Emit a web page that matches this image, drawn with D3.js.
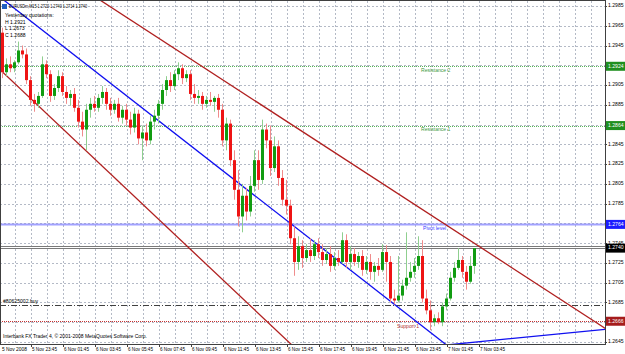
<!DOCTYPE html>
<html><head><meta charset="utf-8">
<script src="https://cdn.jsdelivr.net/npm/d3@7"></script>
<style>body{margin:0;background:#fff}svg{display:block}text{font-family:"Liberation Sans",Arial,sans-serif}</style>
</head><body><svg id="c" width="625" height="354"></svg>
<script>
// ---------- DATA ----------
const symbolHeader = "EURUSDm,M15  1.2722 1.2740 1.2714 1.2740";
const yesterdayText = ["Yesterday quotations:", "H 1.2921", "L 1.2673", "C 1.2688"];
const footerText = "Interbank FX Trader 4, \u00a9 2001-2008 MetaQuotes Software Corp.";

const open = [
1.2958,1.2918,1.2926,1.2922,1.2928,1.2940,1.2936,1.2910,1.2890,1.2886,
1.2894,1.2926,1.2916,1.2894,1.2902,1.2914,1.2898,1.2892,1.2896,1.2882,
1.2868,1.2860,1.2880,1.2886,1.2882,1.2892,1.2898,1.2886,1.2880,1.2886,
1.2872,1.2880,1.2870,1.2862,1.2876,1.2851,1.2857,1.2849,1.2868,1.2874,
1.2886,1.2900,1.2910,1.2904,1.2916,1.2922,1.2912,1.2916,1.2896,1.2892,
1.2894,1.2886,1.2890,1.2888,1.2892,1.2880,1.2849,1.2866,1.2829,1.2799,
1.2772,1.2793,1.2777,1.2803,1.2829,1.2809,1.2860,1.2849,1.2821,1.2843,
1.2811,1.2789,1.2783,1.2750,1.2726,1.2742,1.2730,1.2738,1.2732,1.2744,
1.2736,1.2728,1.2734,1.2722,1.2730,1.2726,1.2748,1.2726,1.2734,1.2726,
1.2732,1.2718,1.2726,1.2716,1.2722,1.2718,1.2736,1.2726,1.2689,1.2687,
1.2692,1.2702,1.2710,1.2716,1.2722,1.2732,1.2689,1.2677,1.2665,1.2669,
1.2665,1.2681,1.2689,1.2710,1.2720,1.2728,1.2716,1.2706,1.2722];
const high = [
1.2963,1.2932,1.2934,1.2930,1.2949,1.2945,1.2942,1.2914,1.2896,1.2898,
1.2934,1.2930,1.2920,1.2906,1.2920,1.2918,1.2904,1.2900,1.2902,1.2890,
1.2878,1.2886,1.2892,1.2894,1.2896,1.2904,1.2902,1.2892,1.2890,1.2892,
1.2884,1.2886,1.2878,1.2882,1.2880,1.2864,1.2866,1.2874,1.2880,1.2890,
1.2906,1.2914,1.2918,1.2920,1.2928,1.2926,1.2920,1.2920,1.2906,1.2900,
1.2898,1.2894,1.2898,1.2894,1.2896,1.2886,1.2872,1.2870,1.2839,1.2819,
1.2805,1.2801,1.2813,1.2839,1.2839,1.2870,1.2866,1.2864,1.2853,1.2849,
1.2819,1.2809,1.2789,1.2762,1.2752,1.2748,1.2744,1.2750,1.2748,1.2750,
1.2744,1.2740,1.2742,1.2736,1.2738,1.2756,1.2754,1.2742,1.2740,1.2736,
1.2738,1.2732,1.2734,1.2726,1.2730,1.2744,1.2743,1.2732,1.2698,1.2732,
1.2708,1.2756,1.2726,1.2730,1.2752,1.2748,1.2698,1.2687,1.2673,1.2675,
1.2685,1.2694,1.2716,1.2726,1.2740,1.2732,1.2722,1.2732,1.2740];
const low = [
1.2912,1.2914,1.2918,1.2918,1.2926,1.2932,1.2906,1.2884,1.2878,1.2882,
1.2892,1.2912,1.2888,1.2890,1.2898,1.2894,1.2886,1.2884,1.2878,1.2862,
1.2853,1.2839,1.2872,1.2878,1.2878,1.2886,1.2880,1.2874,1.2876,1.2868,
1.2866,1.2864,1.2855,1.2857,1.2845,1.2829,1.2843,1.2845,1.2860,1.2866,
1.2880,1.2894,1.2898,1.2900,1.2910,1.2906,1.2908,1.2890,1.2886,1.2886,
1.2880,1.2882,1.2884,1.2878,1.2872,1.2843,1.2839,1.2823,1.2789,1.2762,
1.2756,1.2768,1.2772,1.2797,1.2799,1.2805,1.2841,1.2813,1.2817,1.2803,
1.2783,1.2774,1.2744,1.2712,1.2718,1.2720,1.2726,1.2726,1.2728,1.2730,
1.2722,1.2724,1.2716,1.2718,1.2722,1.2724,1.2720,1.2718,1.2722,1.2720,
1.2712,1.2714,1.2708,1.2706,1.2712,1.2716,1.2706,1.2685,1.2683,1.2685,
1.2687,1.2698,1.2706,1.2710,1.2718,1.2685,1.2673,1.2657,1.2661,1.2663,
1.2661,1.2677,1.2687,1.2706,1.2718,1.2710,1.2698,1.2704,1.2714];
const close = [
1.2918,1.2926,1.2922,1.2928,1.2940,1.2936,1.2910,1.2890,1.2886,1.2894,
1.2926,1.2916,1.2894,1.2902,1.2914,1.2898,1.2892,1.2896,1.2882,1.2868,
1.2860,1.2880,1.2886,1.2882,1.2892,1.2898,1.2886,1.2880,1.2886,1.2872,
1.2880,1.2870,1.2862,1.2876,1.2851,1.2857,1.2849,1.2868,1.2874,1.2886,
1.2900,1.2910,1.2904,1.2916,1.2922,1.2912,1.2916,1.2896,1.2892,1.2894,
1.2886,1.2890,1.2888,1.2892,1.2880,1.2849,1.2866,1.2829,1.2799,1.2772,
1.2793,1.2777,1.2803,1.2829,1.2809,1.2860,1.2849,1.2821,1.2843,1.2811,
1.2789,1.2783,1.2750,1.2726,1.2742,1.2730,1.2738,1.2732,1.2744,1.2736,
1.2728,1.2734,1.2722,1.2730,1.2726,1.2748,1.2726,1.2734,1.2726,1.2732,
1.2718,1.2726,1.2716,1.2722,1.2718,1.2736,1.2726,1.2689,1.2687,1.2692,
1.2702,1.2710,1.2716,1.2722,1.2732,1.2689,1.2677,1.2665,1.2669,1.2665,
1.2681,1.2689,1.2710,1.2720,1.2728,1.2716,1.2706,1.2722,1.2740];

const priceTicks = [1.2985,1.2965,1.2945,1.2925,1.2905,1.2885,1.2865,1.2845,1.2825,
                    1.2805,1.2785,1.2765,1.2745,1.2725,1.2705,1.2685,1.2665,1.2645];
const timeLabels = ["5 Nov 2008","5 Nov 23:45","6 Nov 01:45","6 Nov 03:45","6 Nov 05:45",
  "6 Nov 07:45","6 Nov 09:45","6 Nov 11:45","6 Nov 13:45","6 Nov 15:45","6 Nov 17:45",
  "6 Nov 19:45","6 Nov 21:45","6 Nov 23:45","7 Nov 01:45","7 Nov 03:45"];

const levelNames = ["Resistance 2","Resistance 1","Pivot level","Support 1"];
const levelValues = [1.2924, 1.2864, 1.2764, 1.2666];
const bidPrice = 1.2740, askPrice = 1.2742;
const orderPrice = 1.2682, orderLabel = "#80625002 buy";

// trend lines: [barIndex, price] end points
const blueTrend1 = [[0, 1.2992], [111, 1.2642]];
const blueTrend2 = [[111, 1.2642], [151, 1.2658]];
const redUpper   = [[24, 1.2992], [151, 1.2658]];
const redLower   = [[-1, 1.2922], [76, 1.2628]];

// ---------- DRAW ----------
const W = 605, TOP = 1, BOT = 344;
const svg = d3.select("#c");
const x = d3.scaleLinear().domain([0, 1]).range([2.5, 6.5]);
const y = d3.scaleLinear().domain([1.2645, 1.2985]).range([342, 6]);
const FS = 5.1;

svg.append("defs").append("clipPath").attr("id","clip")
  .append("rect").attr("x",0).attr("y",TOP).attr("width",W).attr("height",BOT-TOP);
const plot = svg.append("g").attr("clip-path","url(#clip)");

// grid
const vIdx = d3.range(-1, 160, 4);
plot.selectAll(".vg").data(vIdx).join("line")
  .attr("x1", d => Math.round(x(d)) + 0.5).attr("x2", d => Math.round(x(d)) + 0.5)
  .attr("y1", TOP).attr("y2", BOT)
  .attr("stroke", "#b4bac6").attr("stroke-dasharray", "2,2").attr("stroke-width", 1);
plot.selectAll(".hg").data(priceTicks).join("line")
  .attr("x1", 0).attr("x2", W)
  .attr("y1", d => Math.round(y(d)) + 0.5).attr("y2", d => Math.round(y(d)) + 0.5)
  .attr("stroke", "#b4bac6").attr("stroke-dasharray", "2,2").attr("stroke-width", 1);

// levels
const levelColors = ["#5cb85c", "#5cb85c", "#8a8aff", "#c83232"];
const levelBox = ["#1f8f1f", "#1f8f1f", "#1c1cff", "#a51c1c"];
const levelText = ["#3c9a3c", "#3c9a3c", "#3a3aff", "#b03030"];
levelValues.forEach((v, k) => {
  const yy = Math.round(y(v)) + 0.5;
  const ln = plot.append("line").attr("x1", 0).attr("x2", W).attr("y1", yy).attr("y2", yy)
    .attr("stroke", levelColors[k]);
  if (k === 2) ln.attr("stroke-width", 2).attr("stroke-opacity", 0.8);
  else ln.attr("stroke-dasharray", "1,1");
});
// order line
{
  const yy = Math.round(y(orderPrice)) + 0.5;
  plot.append("line").attr("x1", 0).attr("x2", W).attr("y1", yy).attr("y2", yy)
    .attr("stroke", "#404040").attr("stroke-dasharray", "6,2,1,2");
}
// bid / ask
[askPrice, bidPrice].forEach(v => {
  const yy = Math.round(y(v)) + 0.5;
  plot.append("line").attr("x1", 0).attr("x2", W).attr("y1", yy).attr("y2", yy)
    .attr("stroke", "#7a7a7a");
});

// trend lines
const lineGen = d3.line().x(d => x(d[0])).y(d => y(d[1]));
[[blueTrend1, "#1010f0"], [blueTrend2, "#1010f0"], [redUpper, "#b02020"], [redLower, "#b02020"]]
  .forEach(([pts, col]) => {
    plot.append("path").attr("d", lineGen(pts)).attr("fill", "none")
      .attr("stroke", col).attr("stroke-width", 1.3);
  });

// candles
const idx = d3.range(close.length);
const up = i => close[i] >= open[i];
plot.selectAll(".wick").data(idx).join("line")
  .attr("x1", i => x(i)).attr("x2", i => x(i))
  .attr("y1", i => y(high[i])).attr("y2", i => y(low[i]))
  .attr("stroke", i => up(i) ? "#8fcf8f" : "#f08c8c").attr("stroke-width", 1);
plot.selectAll(".body").data(idx).join("rect")
  .attr("x", i => x(i) - 1.5).attr("width", 3)
  .attr("y", i => y(Math.max(open[i], close[i])))
  .attr("height", i => Math.max(1, Math.abs(y(open[i]) - y(close[i]))))
  .attr("fill", i => up(i) ? "#119c11" : "#ee1414");

// level labels in plot
const lvlX = [421, 421, 423, 397];
const lvlDy = [4.5, 4.5, 4, 5];
levelValues.forEach((v, k) => {
  plot.append("text").attr("x", lvlX[k]).attr("y", y(v) + lvlDy[k])
    .attr("font-size", FS).attr("fill", levelText[k]).attr("dominant-baseline", "middle")
    .text(levelNames[k]);
});
plot.append("text").attr("x", 3).attr("y", y(orderPrice) - 4).attr("font-size", FS)
  .attr("fill", "#000").attr("dominant-baseline", "middle").text(orderLabel);

// header texts
plot.append("rect").attr("x", 2).attr("y", 4).attr("width", 5).attr("height", 5)
  .attr("fill", "#2060c0");
plot.append("text").attr("x", 9).attr("y", 7).attr("font-size", FS)
  .attr("textLength", 78).attr("lengthAdjust", "spacingAndGlyphs")
  .attr("dominant-baseline", "middle").text(symbolHeader);
yesterdayText.forEach((t, k) => {
  plot.append("text").attr("x", 5).attr("y", 16 + k * 6.5).attr("font-size", FS)
    .attr("dominant-baseline", "middle").text(t);
});
plot.append("text").attr("x", 3).attr("y", 337).attr("font-size", FS)
  .attr("textLength", 144).attr("lengthAdjust", "spacingAndGlyphs")
  .attr("dominant-baseline", "middle").text(footerText);

// frame
svg.append("rect").attr("x", 0.5).attr("y", 0.5).attr("width", W).attr("height", BOT)
  .attr("fill", "none").attr("stroke", "#404040");

// price axis labels
svg.selectAll(".pl").data(priceTicks).join("text")
  .attr("x", 608).attr("y", d => y(d)).attr("font-size", FS)
  .attr("dominant-baseline", "middle").text(d => d.toFixed(4));
svg.selectAll(".pt").data(priceTicks).join("line")
  .attr("x1", W).attr("x2", W + 2).attr("y1", d => Math.round(y(d)) + 0.5).attr("y2", d => Math.round(y(d)) + 0.5)
  .attr("stroke", "#404040");

function box(v, fill) {
  const yy = y(v);
  svg.append("rect").attr("x", 606).attr("y", yy - 4.5).attr("width", 19).attr("height", 9)
    .attr("fill", fill);
  svg.append("text").attr("x", 608).attr("y", yy).attr("font-size", FS).attr("fill", "#fff")
    .attr("dominant-baseline", "middle").text(v.toFixed(4));
}
levelValues.forEach((v, k) => box(v, levelBox[k]));
box(bidPrice, "#000");

// time labels
timeLabels.forEach((t, k) => {
  const xx = k === 0 ? 2 : x(8 * k - 1) + 1.5;
  svg.append("text").attr("x", xx).attr("y", 350).attr("font-size", FS)
    .attr("textLength", 25).attr("lengthAdjust", "spacingAndGlyphs")
    .attr("dominant-baseline", "middle").text(t);
  if (k > 0) svg.append("line").attr("x1", Math.round(x(8 * k - 1)) + 0.5).attr("x2", Math.round(x(8 * k - 1)) + 0.5)
    .attr("y1", BOT).attr("y2", BOT + 3).attr("stroke", "#404040");
});
</script></body></html>
